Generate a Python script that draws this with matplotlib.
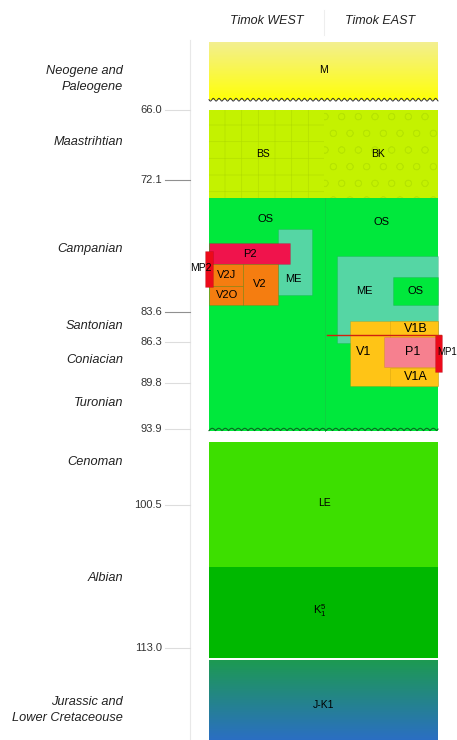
import numpy as np
import matplotlib.pyplot as plt
from matplotlib.patches import Rectangle

plt.rcParams['font.family'] = ['Liberation Sans', 'DejaVu Sans']
plt.rcParams['hatch.linewidth'] = 0.5

# ages (Ma) of the boundary ticks
tick_ages = [66.0, 72.1, 83.6, 86.3, 89.8, 93.9, 100.5, 113.0]
tick_dark = [False, True, True, False, False, False, False, False]

# stage names and the age they sit at
stage_names = ['Neogene and\nPaleogene', 'Maastrihtian', 'Campanian', 'Santonian',
               'Coniacian', 'Turonian', 'Cenoman', 'Albian',
               'Jurassic and\nLower Cretaceouse']
stage_ages = [63.3, 68.8, 78.1, 84.9, 87.8, 91.6, 96.7, 106.9, 118.4]

# units: name, top age, base age, left, right (column coordinates)
unit_name = ['BS', 'BK', 'OS', 'LE', 'K15']
unit_top = [66.0, 66.0, 73.7, 95.0, 105.9]
unit_base = [73.7, 73.7, 94.0, 105.9, 113.85]
unit_left = [209, 324, 209, 209, 209]
unit_right = [324, 438, 438, 438, 438]
unit_color = ['#c4f200', '#c4f200', '#00e83c', '#3ddf00', '#00b800']
unit_hatch = ['+', 'o', None, None, None]
unit_hcol = ['#b4e000', '#b6e400', None, None, None]

# bodies inside the Campanian-Turonian column
body_name = ['ME', 'P2', 'V2J', 'V2O', 'V2', 'ME', 'OS', 'V1', 'V1B', 'V1A', 'P1', 'MP2', 'MP1']
body_top = [76.4, 77.6, 79.45, 81.35, 79.45, 78.75, 80.6, 84.45, 84.45, 88.5, 85.85, 78.3, 85.65]
body_base = [82.15, 79.45, 81.35, 83.0, 83.0, 86.35, 83.0, 90.1, 85.9, 90.1, 88.45, 81.45, 88.9]
body_left = [278, 209, 209, 209, 243, 337, 393, 350, 390, 390, 384, 205, 435]
body_right = [312, 290, 243, 243, 278, 438, 438, 438, 438, 438, 438, 213, 442]
body_color = ['#55d6a4', '#f0134c', '#f57d10', '#f57d10', '#f57d10', '#55d6a4', '#00e83c',
              '#ffc416', '#ffc416', '#ffc416', '#f6808f', '#ec0a1a', '#ec0a1a']

px = 11.45  # pixels per Ma
fig = plt.figure(figsize=(4.57, 7.40), dpi=100)
ax = fig.add_axes([0, 0, 1, 1])
ax.set_xlim(0, 457)
ax.set_ylim(66 + 630 / px, 66 - 110 / px)
ax.axis('off')

def grad(top, base, c1, c2):
    c1 = np.array(plt.matplotlib.colors.to_rgb(c1))
    c2 = np.array(plt.matplotlib.colors.to_rgb(c2))
    t = np.linspace(0, 1, 100)[:, None]
    img = (1 - t) * c1 + t * c2
    ax.imshow(img[:, None, :], extent=(209, 438, base, top), aspect='auto', zorder=1)

# M and J-K1 with gradients
grad(60.15, 65.15, '#f3ef90', '#ffff08')
ax.text(324, 62.5, 'M', ha='center', va='center', fontsize=7.5)
grad(114.05, 121.1, '#1d9a52', '#2b6ec4')
ax.text(324, 118.0, 'J-K1', ha='center', va='center', fontsize=7.5)

for n, t, b, l, r, c, h, hc in zip(unit_name, unit_top, unit_base, unit_left, unit_right,
                                   unit_color, unit_hatch, unit_hcol):
    ax.add_patch(Rectangle((l, t), r - l, b - t, facecolor=c, edgecolor=hc if h else c,
                           hatch=h, lw=0, zorder=1))
ax.text(263, 69.8, 'BS', ha='center', va='center', fontsize=7.5)
ax.text(378, 69.8, 'BK', ha='center', va='center', fontsize=7.5)
ax.text(265, 75.5, 'OS', ha='center', va='center', fontsize=8)
ax.text(382, 75.75, 'OS', ha='center', va='center', fontsize=8)
ax.text(324, 100.3, 'LE', ha='center', va='center', fontsize=7.5)
ax.text(320, 109.7, r'$\mathregular{K_1^5}$', ha='center', va='center', fontsize=8)
ax.plot([325, 325], [73.7, 94.0], color='#10d040', lw=0.6, zorder=1)

for n, t, b, l, r, c in zip(body_name, body_top, body_base, body_left, body_right, body_color):
    ax.add_patch(Rectangle((l, t), r - l, b - t, facecolor=c, edgecolor='#00000018',
                           lw=0.6, zorder=2))

ax.text(293, 80.8, 'ME', ha='center', va='center', fontsize=8, zorder=5)
ax.text(250, 78.55, 'P2', ha='center', va='center', fontsize=8, zorder=5)
ax.text(227, 80.4, 'V2J', ha='center', va='center', fontsize=8, zorder=5)
ax.text(227, 82.2, 'V2O', ha='center', va='center', fontsize=8, zorder=5)
ax.text(260, 81.2, 'V2', ha='center', va='center', fontsize=8, zorder=5)
ax.text(364, 81.8, 'ME', ha='center', va='center', fontsize=8, zorder=5)
ax.text(415, 81.8, 'OS', ha='center', va='center', fontsize=8, zorder=5)
ax.text(364, 87.1, 'V1', ha='center', va='center', fontsize=9, zorder=5)
ax.text(416, 85.1, 'V1B', ha='center', va='center', fontsize=9, zorder=5)
ax.text(416, 89.3, 'V1A', ha='center', va='center', fontsize=9, zorder=5)
ax.text(413, 87.1, 'P1', ha='center', va='center', fontsize=9, zorder=5)
ax.text(201, 79.8, 'MP2', ha='center', va='center', fontsize=7.5, zorder=5)
ax.text(457, 87.1, 'MP1', ha='right', va='center', fontsize=7, zorder=5)
ax.plot([327, 441], [85.65, 85.65], color='#d02010', lw=1.0, zorder=4)

# unconformities
xs = np.linspace(209, 438, 1200)
ax.plot(xs, 65.1 + 0.12 * np.sin(2 * np.pi * (xs - 209) / 5.7), color='#333333', lw=0.7, zorder=3)
ax.plot(xs, 94.0 - 0.2 * np.abs(np.sin(np.pi * (xs - 209) / 6.5)), color='#0a6a20', lw=0.8, zorder=3)

# age axis
ax.plot([190, 190], [66 - 70 / px, 121.1], color='#e8e8e8', lw=0.8)
for a, d in zip(tick_ages, tick_dark):
    ax.plot([165, 190], [a, a], color='#909090' if d else '#dddddd', lw=0.8)
    ax.text(162, a, '%.1f' % a, ha='right', va='center', fontsize=8, color='#333333')

for n, a in zip(stage_names, stage_ages):
    ax.text(123, a, n, ha='right', va='center', fontsize=9.2, style='italic',
            color='#222222', linespacing=1.45)

ax.text(267, 56.39 + 21 / px, 'Timok WEST', ha='center', va='center', fontsize=9,
        style='italic', color='#222222')
ax.text(380, 56.39 + 21 / px, 'Timok EAST', ha='center', va='center', fontsize=9,
        style='italic', color='#222222')
ax.plot([324, 324], [56.39 + 10 / px, 56.39 + 35 / px], color='#eeeeee', lw=0.8)

fig.savefig('out.png', dpi=100)
